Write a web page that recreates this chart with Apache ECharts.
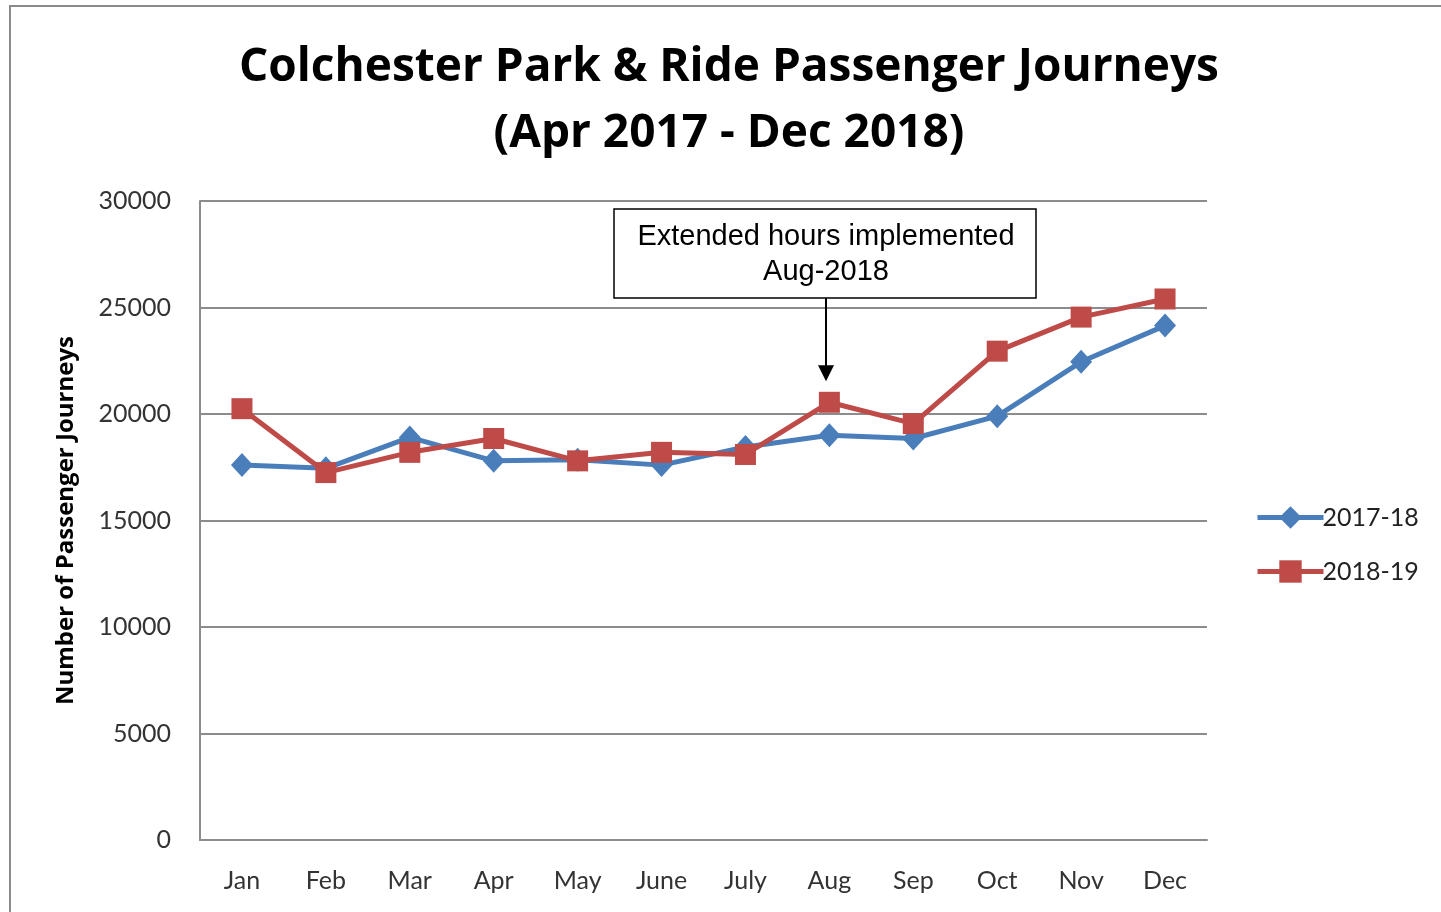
<!DOCTYPE html>
<html>
<head>
<meta charset="utf-8">
<script src="https://cdn.jsdelivr.net/npm/echarts@6/dist/echarts.min.js"></script>
<style>
  html, body { margin: 0; padding: 0; background: #fff; }
  #chart { width: 1441px; height: 912px; }
</style>
</head>
<body>
<div id="chart"></div>
<script>
const months = ["Jan", "Feb", "Mar", "Apr", "May", "June", "July", "Aug", "Sep", "Oct", "Nov", "Dec"];
const journeys1718 = [17600, 17450, 18900, 17800, 17850, 17600, 18450, 19000, 18850, 19900, 22450, 24150];
const journeys1819 = [20250, 17250, 18200, 18850, 17800, 18200, 18100, 20550, 19550, 22950, 24550, 25400];
const yTicks = { min: 0, max: 30000, interval: 5000 };

const chart = echarts.init(document.getElementById("chart"));
const labelFont = "Lato, 'Open Sans', sans-serif";

const option = {
  animation: false,
  title: {
    text: "Colchester Park & Ride Passenger Journeys\n(Apr 2017 - Dec 2018)",
    left: 724,
    textAlign: "center",
    top: 30,
    textStyle: {
      fontFamily: "'Open Sans', sans-serif",
      fontWeight: "bold",
      fontSize: 46,
      lineHeight: 66,
      color: "#000"
    }
  },
  legend: {
    orient: "vertical",
    left: 1250,
    top: 500,
    itemWidth: 66,
    itemHeight: 28,
    itemGap: 29,
    lineStyle: { width: 5 },
    textStyle: { fontFamily: labelFont, fontSize: 25, color: "#222", padding: [0, 0, 0, -6] },
    data: ["2017-18", "2018-19"]
  },
  grid: { left: 200, top: 201, right: 234, bottom: 72, containLabel: false },
  xAxis: {
    type: "category",
    data: months,
    boundaryGap: true,
    axisLine: { lineStyle: { color: "#8c8c8c", width: 2 } },
    axisTick: { show: false },
    axisLabel: { fontFamily: labelFont, fontSize: 25, color: "#333", margin: 28 }
  },
  yAxis: {
    type: "value",
    min: yTicks.min,
    max: yTicks.max,
    interval: yTicks.interval,
    name: "Number of Passenger Journeys",
    nameLocation: "middle",
    nameGap: 122,
    nameTextStyle: { fontFamily: "'Open Sans', sans-serif", fontWeight: "bold", fontSize: 24, color: "#000" },
    axisLine: { show: true, lineStyle: { color: "#8c8c8c", width: 2 } },
    axisTick: { show: false },
    splitLine: { lineStyle: { color: "#8c8c8c", width: 2 } },
    axisLabel: { fontFamily: labelFont, fontSize: 25, color: "#333", margin: 29, formatter: (v) => String(v) }
  },
  series: [
    {
      name: "2017-18",
      type: "line",
      data: journeys1718,
      symbol: "diamond",
      symbolSize: [22, 24],
      lineStyle: { color: "#4a7ebb", width: 5 },
      itemStyle: { color: "#4a7ebb" },
      z: 2
    },
    {
      name: "2018-19",
      type: "line",
      data: journeys1819,
      symbol: "rect",
      symbolSize: 21,
      lineStyle: { color: "#be4b48", width: 5 },
      itemStyle: { color: "#be4b48" },
      z: 3
    }
  ]
};
chart.setOption(option);

// annotation box + arrow anchored to the Aug 2018-19 point
const augIdx = months.indexOf("Aug");
const p = chart.convertToPixel({ seriesIndex: 1 }, [augIdx, journeys1819[augIdx]]);
const bx = Math.round(p[0]) - 3;
chart.setOption({
  graphic: [
    {
      type: "rect",
      shape: { x: 10, y: 6, width: 1460, height: 940 },
      style: { fill: "none", stroke: "#8a8a8a", lineWidth: 2 },
      silent: true
    },
    {
      type: "rect",
      shape: { x: bx - 212, y: 209, width: 422, height: 89 },
      style: { fill: "#fff", stroke: "#000", lineWidth: 1.5 },
      z: 10
    },
    {
      type: "text",
      x: bx, y: 219,
      style: {
        text: "Extended hours implemented\nAug-2018",
        fill: "#000",
        fontFamily: "'Liberation Sans', Arial, sans-serif",
        fontSize: 29,
        lineHeight: 35,
        align: "center",
        verticalAlign: "top"
      },
      z: 11
    },
    {
      type: "line",
      shape: { x1: bx, y1: 298, x2: bx, y2: p[1] - 30 },
      style: { stroke: "#000", lineWidth: 2 },
      z: 10
    },
    {
      type: "polygon",
      shape: { points: [[bx - 8, p[1] - 37], [bx + 8, p[1] - 37], [bx, p[1] - 21]] },
      style: { fill: "#000" },
      z: 10
    }
  ]
});
</script>
</body>
</html>
